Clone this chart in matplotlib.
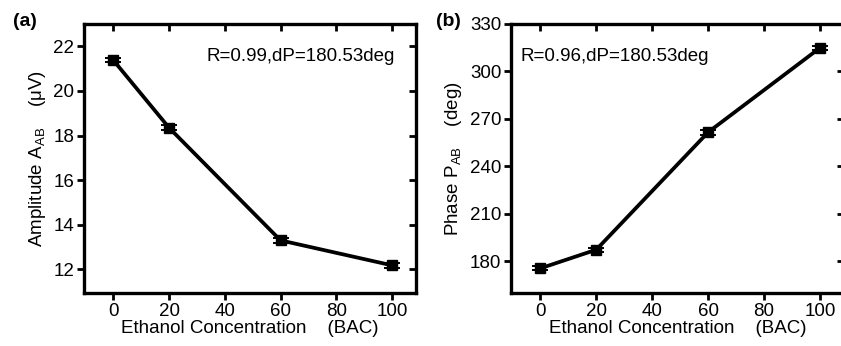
import matplotlib
matplotlib.use("Agg")
import matplotlib.pyplot as plt
import numpy as np

# Data
conc = [0, 20, 60, 100]
amp = [21.38, 18.35, 13.30, 12.18]
amp_err = [0.10, 0.10, 0.12, 0.10]
phase = [175.4, 187.2, 261.5, 314.9]
phase_err = [1.2, 1.2, 1.5, 1.2]
xticks = [0, 20, 40, 60, 80, 100]
amp_ticks = [12, 14, 16, 18, 20, 22]
phase_ticks = [180, 210, 240, 270, 300, 330]

plt.rcParams['font.family'] = ['Liberation Sans', 'DejaVu Sans']
plt.rcParams['mathtext.fontset'] = 'custom'
plt.rcParams['mathtext.rm'] = 'Liberation Sans'
plt.rcParams['mathtext.it'] = 'Liberation Sans'

W, H = 841, 346
fig = plt.figure(figsize=(W / 100, H / 100), dpi=100)

def make_ax(left_px, right_px, top_px, bottom_px):
    return fig.add_axes([left_px / W, 1 - bottom_px / H,
                         (right_px - left_px) / W, (bottom_px - top_px) / H])

ax1 = make_ax(84, 416, 24, 293)
ax2 = make_ax(511, 844, 24, 293)

def style(ax, y, yerr, ylim, yticks, ylabel, text, tx):
    ax.errorbar(conc, y, yerr=yerr, color='black', lw=2.7, marker='s',
                markersize=7.5, capsize=6, elinewidth=1.4, capthick=1.4)
    ax.set_xlim(-10.5, 108.6)
    ax.set_ylim(*ylim)
    ax.set_xticks(xticks)
    ax.set_yticks(yticks)
    for s in ax.spines.values():
        s.set_linewidth(2.4)
    ax.tick_params(direction='out', length=5, width=2, labelsize=13.5, pad=2)
    ax.set_xlabel('Ethanol Concentration    (BAC)', fontsize=13.5, labelpad=0)
    ax.set_ylabel(ylabel, fontsize=13.5, labelpad=4)
    secx = ax.secondary_xaxis('top')
    secx.set_xticks(xticks)
    secx.tick_params(direction='in', length=5, width=2, labeltop=False)
    secx.spines['top'].set_visible(False)
    secy = ax.secondary_yaxis('right')
    secy.set_yticks(yticks)
    secy.tick_params(direction='in', length=5, width=2, labelright=False)
    secy.spines['right'].set_visible(False)
    ax.text(tx, 0.88, text, transform=ax.transAxes, fontsize=13.5, va='center')

style(ax1, amp, amp_err, (10.94, 23.0), amp_ticks,
      r'Amplitude A$_{\rm AB}$    ($\mu$V)', 'R=0.99,dP=180.53deg', 0.37)
style(ax2, phase, phase_err, (159.8, 330), phase_ticks,
      r'Phase P$_{\rm AB}$    (deg)', 'R=0.96,dP=180.53deg', 0.03)

fig.text(13 / W, 1 - 21 / H, '(a)', fontsize=14, fontweight='bold', va='center')
fig.text(436 / W, 1 - 21 / H, '(b)', fontsize=14, fontweight='bold', va='center')

fig.savefig('out.png', dpi=100)
